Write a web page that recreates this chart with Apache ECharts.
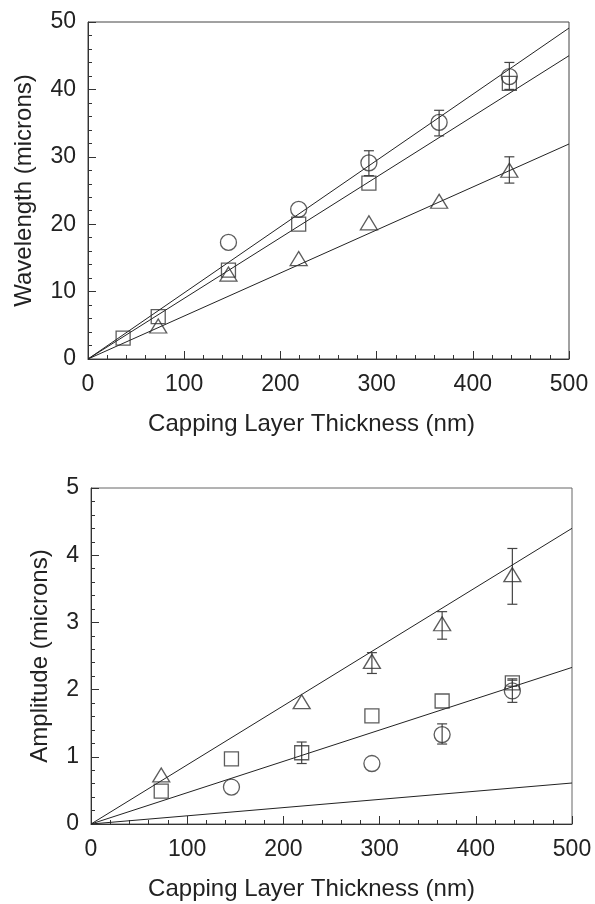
<!DOCTYPE html>
<html><head><meta charset="utf-8">
<script src="https://cdn.jsdelivr.net/npm/echarts@6/dist/echarts.min.js"></script>
<style>html,body{margin:0;padding:0;background:#fff}#c{width:595px;height:904px}</style>
</head><body><div id="c"></div>
<script>
// ---- data ----
const xTicks = [0, 100, 200, 300, 400, 500];
const wlTicks = [0, 10, 20, 30, 40, 50];
const amTicks = [0, 1, 2, 3, 4, 5];

// Wavelength (microns) vs capping layer thickness (nm)
const wlSquare   = [[36.5, 3.1], [73, 6.3], [146, 13.2], [219, 20.0], [292, 26.1], [438, 40.9]];
const wlCircle   = [[146, 17.3], [219, 22.2], [292, 29.1], [365, 35.1], [438, 41.9]];
const wlTriangle = [[73, 4.9], [146, 12.6], [219, 14.9], [292, 20.2], [365, 23.4], [438, 28.0]];
const wlCircleErr   = [[292, 27.2, 30.9], [365, 33.1, 36.9], [438, 40.0, 44.0]];
const wlTriangleErr = [[438, 26.1, 30.0]];
const wlFitCircle   = [[0, 0], [500, 49.1]];
const wlFitSquare   = [[0, 0], [500, 45.0]];
const wlFitTriangle = [[0, 0], [500, 31.9]];

// Amplitude (microns) vs capping layer thickness (nm)
const amTriangle = [[73, 0.73], [219, 1.82], [292, 2.42], [365, 2.98], [438, 3.71]];
const amSquare   = [[73, 0.49], [146, 0.97], [219, 1.06], [292, 1.61], [365, 1.83], [438, 2.10]];
const amCircle   = [[146, 0.55], [292, 0.90], [365, 1.33], [438, 1.98]];
const amTriangleErr = [[292, 2.24, 2.55], [365, 2.75, 3.16], [438, 3.27, 4.10]];
const amSquareErr   = [[219, 0.90, 1.22], [438, 2.05, 2.16]];
const amCircleErr   = [[365, 1.19, 1.49], [438, 1.81, 2.14]];
const amFitHigh = [[0, 0], [500, 4.40]];
const amFitMid  = [[0, 0], [500, 2.33]];
const amFitLow  = [[0, 0], [500, 0.61]];

// ---- styling ----
const FONT = '"Liberation Sans", Arial, Helvetica, sans-serif';
const TXT = '#222';
const LINE = '#333';

function xAxis(gi, ticks, shift) {
  return {
    type: 'value', gridIndex: gi, min: ticks[0], max: ticks[ticks.length - 1], interval: ticks[1] - ticks[0],
    name: 'Capping Layer Thickness (nm)', nameLocation: 'middle', nameGap: 53,
    nameTextStyle: { fontFamily: FONT, fontSize: 24, color: TXT, padding: [0, shift, 0, 0] },
    axisLine: { show: true, onZero: false, lineStyle: { color: LINE, width: 1 } },
    axisTick: { show: true, inside: true, length: 8, lineStyle: { color: LINE } },
    minorTick: { show: true, splitNumber: 5, length: 4, lineStyle: { color: LINE } },
    axisLabel: { fontFamily: FONT, fontSize: 23, color: TXT, margin: 14 },
    splitLine: { show: false }
  };
}
function yAxis(gi, ticks, name, gap) {
  return {
    type: 'value', gridIndex: gi, min: ticks[0], max: ticks[ticks.length - 1], interval: ticks[1] - ticks[0],
    name: name, nameLocation: 'middle', nameGap: gap, nameRotate: 90,
    nameTextStyle: { fontFamily: FONT, fontSize: 24, color: TXT },
    axisLine: { show: true, onZero: false, lineStyle: { color: LINE, width: 1 } },
    axisTick: { show: true, inside: true, length: 8, lineStyle: { color: LINE } },
    minorTick: { show: true, splitNumber: 5, length: 4, lineStyle: { color: LINE } },
    axisLabel: { fontFamily: FONT, fontSize: 23, color: TXT, margin: 12 },
    splitLine: { show: false }
  };
}

function scatter(gi, data, symbol, size) {
  return {
    type: 'scatter', xAxisIndex: gi, yAxisIndex: gi, data: data, symbol: symbol, symbolSize: size,
    itemStyle: { color: 'rgba(0,0,0,0)', borderColor: '#333', borderWidth: 1.3 },
    emphasis: { disabled: true }, z: 4
  };
}
function fit(gi, data) {
  return {
    type: 'line', xAxisIndex: gi, yAxisIndex: gi, data: data, symbol: 'none',
    lineStyle: { color: '#222', width: 1 }, emphasis: { disabled: true }, z: 3
  };
}
function errBars(gi, data) {
  return {
    type: 'custom', xAxisIndex: gi, yAxisIndex: gi, data: data, z: 3,
    encode: { x: 0, y: [1, 2] },
    renderItem: function (params, api) {
      const x = api.value(0);
      const lo = api.coord([x, api.value(1)]);
      const hi = api.coord([x, api.value(2)]);
      const hw = 5;
      const st = { stroke: '#444', lineWidth: 1.2 };
      return {
        type: 'group', children: [
          { type: 'line', shape: { x1: lo[0], y1: lo[1], x2: hi[0], y2: hi[1] }, style: st },
          { type: 'line', shape: { x1: lo[0] - hw, y1: lo[1], x2: lo[0] + hw, y2: lo[1] }, style: st },
          { type: 'line', shape: { x1: hi[0] - hw, y1: hi[1], x2: hi[0] + hw, y2: hi[1] }, style: st }
        ]
      };
    }
  };
}

const chart = echarts.init(document.getElementById('c'), null, { renderer: 'canvas' });
chart.setOption({
  animation: false,
  backgroundColor: '#fff',
  grid: [
    { left: 88, top: 22, width: 481, height: 337, show: true, borderColor: '#444', borderWidth: 1 },
    { left: 91, top: 488, width: 481, height: 336, show: true, borderColor: '#666', borderWidth: 1 }
  ],
  xAxis: [xAxis(0, xTicks, 34), xAxis(1, xTicks, 40)],
  yAxis: [yAxis(0, wlTicks, 'Wavelength (microns)', 52), yAxis(1, amTicks, 'Amplitude (microns)', 39)],
  series: [
    fit(0, wlFitCircle), fit(0, wlFitSquare), fit(0, wlFitTriangle),
    errBars(0, wlCircleErr), errBars(0, wlTriangleErr),
    scatter(0, wlSquare, 'rect', 14), scatter(0, wlCircle, 'circle', 16), scatter(0, wlTriangle, 'triangle', [17, 14]),
    fit(1, amFitHigh), fit(1, amFitMid), fit(1, amFitLow),
    errBars(1, amTriangleErr), errBars(1, amSquareErr), errBars(1, amCircleErr),
    scatter(1, amSquare, 'rect', 14), scatter(1, amCircle, 'circle', 16), scatter(1, amTriangle, 'triangle', [17, 14])
  ]
});
</script></body></html>
